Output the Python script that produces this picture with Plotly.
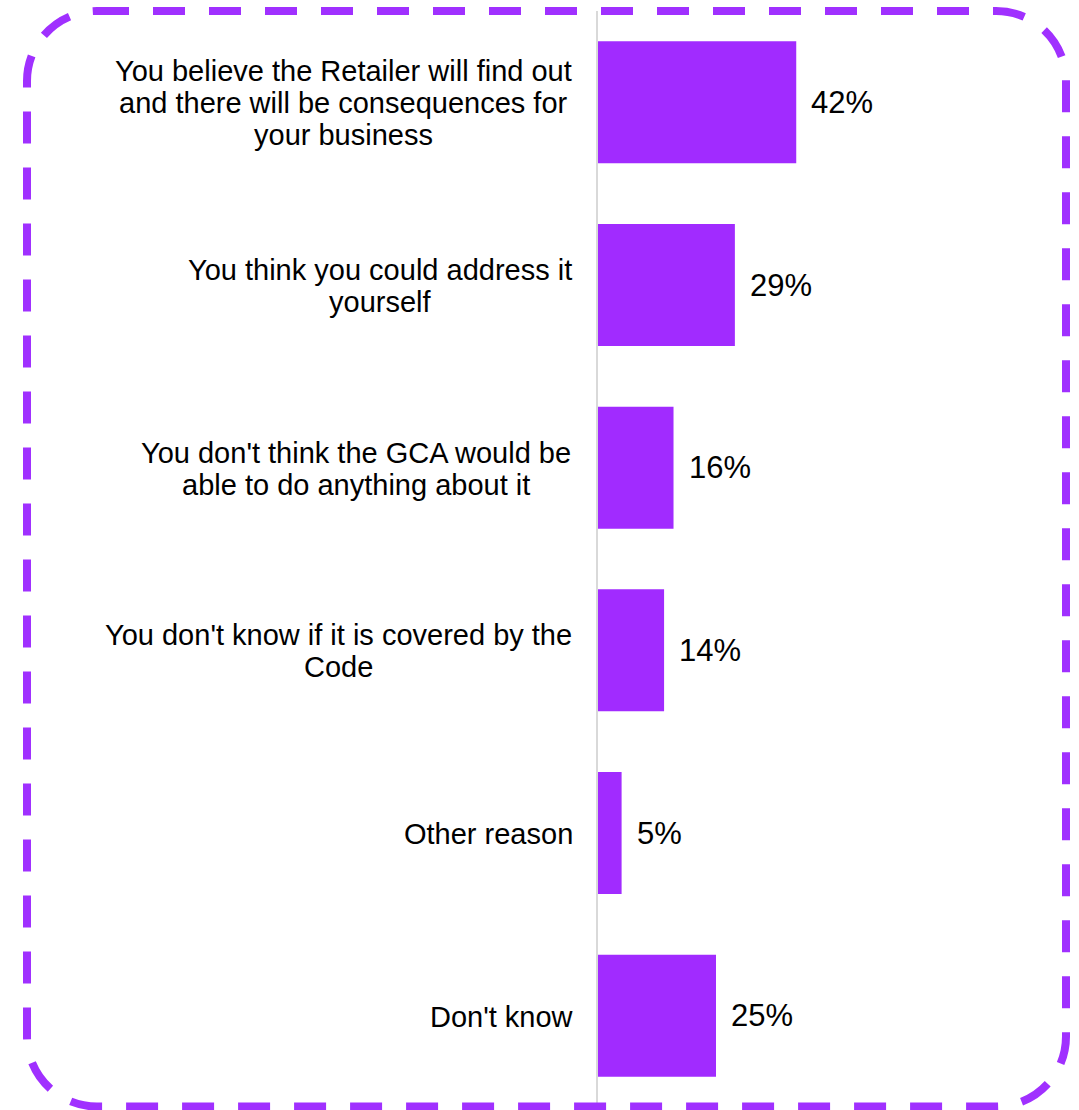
import plotly.graph_objects as go

# ---- data ----
categories = [
    "You believe the Retailer will find out\nand there will be consequences for\nyour business",
    "You think you could address it\nyourself",
    "You don't think the GCA would be\nable to do anything about it",
    "You don't know if it is covered by the\nCode",
    "Other reason",
    "Don't know",
]
values = [42, 29, 16, 14, 5, 25]
value_labels = ["42%", "29%", "16%", "14%", "5%", "25%"]

# ---- style / layout constants ----
W, H = 1079, 1110
L, R, T, B = 598, 20, 11, 3
PW, PH = W - L - R, H - T - B
PX_PER_UNIT = 4.72
FONT = "Liberation Sans, Arial, sans-serif"
CAT_FS = 29
VAL_FS = 31
LINE_H = 32
BAR_COLOR = "#A12BFF"
BORDER_COLOR = "#A030FF"

# Arial / Liberation Sans advance widths (per 1000 em)
AW = {' ': 278, "'": 191, '%': 889,
      'a': 556, 'b': 556, 'c': 500, 'd': 556, 'e': 556, 'f': 278, 'g': 556, 'h': 556,
      'i': 222, 'j': 222, 'k': 500, 'l': 222, 'm': 833, 'n': 556, 'o': 556, 'p': 556,
      'q': 556, 'r': 333, 's': 500, 't': 278, 'u': 556, 'v': 500, 'w': 722, 'x': 500,
      'y': 500, 'z': 500,
      'A': 667, 'B': 667, 'C': 722, 'D': 722, 'E': 667, 'F': 611, 'G': 778, 'H': 722,
      'I': 278, 'J': 500, 'K': 667, 'L': 556, 'M': 833, 'N': 722, 'O': 778, 'P': 667,
      'Q': 778, 'R': 722, 'S': 667, 'T': 611, 'U': 722, 'V': 667, 'W': 944, 'X': 667,
      'Y': 667, 'Z': 611}


def tw(s, fs):
    return sum(AW.get(c, 556) for c in s) / 1000.0 * fs


keys = [c.replace("\n", " ") for c in categories]

fig = go.Figure()
fig.add_trace(go.Bar(
    x=values, y=keys, orientation="h",
    marker=dict(color=BAR_COLOR, line=dict(width=0)),
    hoverinfo="skip",
))

annotations = []
LABEL_RIGHT = 573 - L  # pixel offset relative to axis
for key, cat in zip(keys, categories):
    lines = cat.split("\n")
    maxw = max(tw(s, CAT_FS) for s in lines)
    mid = (len(lines) - 1) / 2.0
    for i, line in enumerate(lines):
        annotations.append(dict(
            x=0, y=key, xref="x", yref="y", text=line, showarrow=False,
            xanchor="center", yanchor="middle",
            xshift=LABEL_RIGHT - maxw / 2.0, yshift=(mid - i) * LINE_H - 1,
            font=dict(family=FONT, size=CAT_FS, color="#000000"),
        ))
for key, v, lab in zip(keys, values, value_labels):
    annotations.append(dict(
        x=v, y=key, xref="x", yref="y", text=lab, showarrow=False,
        xanchor="left", yanchor="middle", xshift=13,
        font=dict(family=FONT, size=VAL_FS, color="#000000"),
    ))


# rounded dashed border (pixel coords -> paper coords)
def px(x):
    return (x - L) / PW


def py(y):
    return 1 - (y - T) / PH


x0, x1, y0, y1, r = 27, 1066, 11, 1106.5, 70
k = 0.5523 * r
pts = [
    f"M {px(x0 + r)},{py(y0)}",
    f"L {px(x1 - r)},{py(y0)}",
    f"C {px(x1 - r + k)},{py(y0)} {px(x1)},{py(y0 + r - k)} {px(x1)},{py(y0 + r)}",
    f"L {px(x1)},{py(y1 - r)}",
    f"C {px(x1)},{py(y1 - r + k)} {px(x1 - r + k)},{py(y1)} {px(x1 - r)},{py(y1)}",
    f"L {px(x0 + r)},{py(y1)}",
    f"C {px(x0 + r - k)},{py(y1)} {px(x0)},{py(y1 - r + k)} {px(x0)},{py(y1 - r)}",
    f"L {px(x0)},{py(y0 + r)}",
    f"C {px(x0)},{py(y0 + r - k)} {px(x0 + r - k)},{py(y0)} {px(x0 + r)},{py(y0)}",
    "Z",
]
fig.add_shape(type="path", path=" ".join(pts), xref="paper", yref="paper",
              line=dict(color=BORDER_COLOR, width=8, dash="32px,24px"),
              fillcolor="rgba(0,0,0,0)", layer="above")

fig.update_layout(
    width=W, height=H,
    margin=dict(l=L, r=R, t=T, b=B, pad=0),
    paper_bgcolor="white", plot_bgcolor="white",
    bargap=0.332, showlegend=False,
    xaxis=dict(range=[0, PW / PX_PER_UNIT], visible=False, fixedrange=True),
    yaxis=dict(type="category", categoryorder="array", categoryarray=keys,
               range=[len(keys) - 0.5, -0.5], showticklabels=False, ticks="",
               showgrid=False, zeroline=False, showline=True,
               linecolor="#D9D9D9", linewidth=2, fixedrange=True),
    annotations=annotations,
    font=dict(family=FONT),
)

fig.write_html("out.html", config={"displayModeBar": False})
